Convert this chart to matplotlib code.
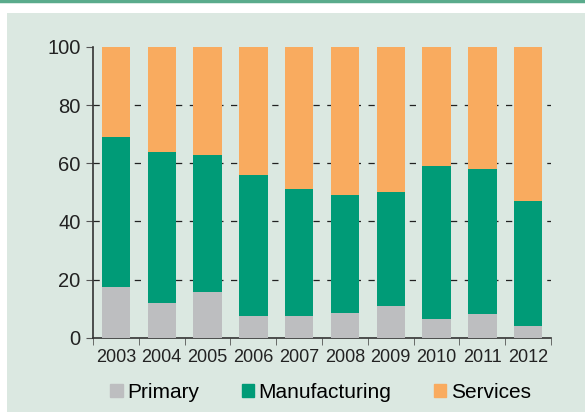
import numpy as np
import matplotlib.pyplot as plt
from matplotlib.patches import Rectangle, Patch

plt.rcParams['font.family'] = ['Liberation Sans', 'DejaVu Sans']

years = ['2003', '2004', '2005', '2006', '2007', '2008', '2009', '2010', '2011', '2012']
primary = [17.5, 12.0, 15.8, 7.6, 7.6, 8.6, 11.0, 6.5, 8.2, 4.1]
manufacturing_top = [69, 64, 63, 56, 51, 49, 50, 59, 58, 47]
manufacturing = [m - p for m, p in zip(manufacturing_top, primary)]
services = [100 - m for m in manufacturing_top]

c_prim = '#bdbec0'
c_manu = '#009b77'
c_serv = '#f9ab5f'
bg = '#dbe8e1'

fig = plt.figure(figsize=(5.85, 4.12), dpi=100)
fig.patch.set_facecolor('white')
fig.add_artist(Rectangle((0.012, 0), 0.988, 0.968, transform=fig.transFigure,
                         facecolor=bg, edgecolor='none', zorder=0))
fig.add_artist(plt.Line2D([0, 1], [0.998, 0.998], transform=fig.transFigure,
                          color='#5aab8c', lw=2.5))

ax = fig.add_axes([0.159, 0.180, 0.783, 0.706])
ax.set_facecolor('none')
x = np.arange(len(years))
w = 0.62
ax.bar(x, primary, w, color=c_prim, zorder=3)
ax.bar(x, manufacturing, w, bottom=primary, color=c_manu, zorder=3)
ax.bar(x, services, w, bottom=manufacturing_top, color=c_serv, zorder=3)

ax.set_xlim(-0.5, len(years) - 0.5)
ax.set_ylim(0, 100)
ax.set_yticks([0, 20, 40, 60, 80, 100])
for v in [20, 40, 60, 80]:
    ax.axhline(v, color='#222222', lw=0.9, ls=(0, (5, 6)), zorder=1)

ax.set_xticks(x)
ax.set_xticklabels(years)
ax.set_xticks(np.arange(-0.5, len(years)), minor=True)
ax.tick_params(axis='x', which='major', length=0, labelsize=13, pad=8, colors='#222222')
ax.tick_params(axis='x', which='minor', length=5, direction='out', color='#555555')
ax.tick_params(axis='y', length=5, direction='out', labelsize=14.5, color='#555555',
               labelcolor='#222222', pad=4)

for s in ['top', 'right']:
    ax.spines[s].set_visible(False)
for s in ['left', 'bottom']:
    ax.spines[s].set_color('#333333')
    ax.spines[s].set_linewidth(1.2)

handles = [Patch(color=c_prim, label='Primary'),
           Patch(color=c_manu, label='Manufacturing'),
           Patch(color=c_serv, label='Services')]
fig.legend(handles=handles, loc='center', bbox_to_anchor=(0.548, 0.048), ncol=3,
           frameon=False, fontsize=15, handlelength=0.58, handleheight=0.58,
           handletextpad=0.22, columnspacing=2.05)

fig.savefig('out.png', dpi=100, facecolor=fig.get_facecolor())
